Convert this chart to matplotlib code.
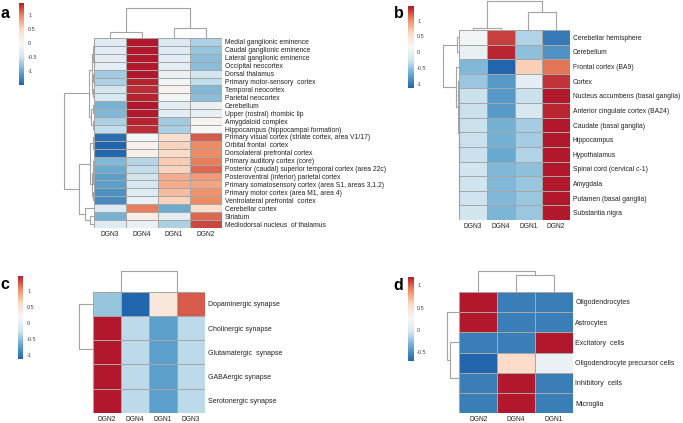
import numpy as np
import matplotlib
matplotlib.use('Agg')
import matplotlib.pyplot as plt
from matplotlib.colors import LinearSegmentedColormap

plt.rcParams['font.family'] = ['Liberation Sans', 'DejaVu Sans']

W, H = 683, 423

# brewer RdBu (7 classes), reversed
cmap = LinearSegmentedColormap.from_list(
    'rdbu7', ['#2166AC', '#67A9CF', '#D1E5F0', '#F7F7F7', '#FDDBC7', '#EF8A62', '#B2182B'])

# ---------------- panel a ----------------
a_cols = ['DGN3', 'DGN4', 'DGN1', 'DGN2']
a_rows = ['Medial ganglionic eminence', 'Caudal ganglionic eminence',
          'Lateral ganglionic eminence', 'Occipital neocortex', 'Dorsal thalamus',
          'Primary motor-sensory  cortex', 'Temporal neocortex', 'Parietal neocortex',
          'Cerebellum', 'Upper (rostral) rhombic lip', 'Amygdaloid complex',
          'Hippocampus (hippocampal formation)',
          'Primary visual cortex (striate cortex, area V1/17)',
          'Orbital frontal  cortex', 'Dorsolateral prefrontal cortex',
          'Primary auditory cortex (core)',
          'Posterior (caudal) superior temporal cortex (area 22c)',
          'Posteroventral (inferior) parietal cortex',
          'Primary somatosensory cortex (area S1, areas 3,1,2)',
          'Primary motor cortex (area M1, area 4)', 'Ventrolateral prefrontal  cortex',
          'Cerebellar cortex', 'Striatum', 'Mediodorsal nucleus  of thalamus']
a_vals = [[-0.35, 1.45, -0.40, -0.70],
          [-0.30, 1.45, -0.35, -0.80],
          [-0.30, 1.45, -0.30, -0.85],
          [-0.30, 1.45, -0.30, -0.85],
          [-0.75, 1.45, -0.20, -0.50],
          [-0.70, 1.40, -0.10, -0.60],
          [-0.50, 1.35, 0.05, -0.90],
          [-0.45, 1.40, -0.10, -0.85],
          [-0.95, 1.45, -0.30, -0.20],
          [-0.90, 1.45, -0.30, -0.25],
          [-0.70, 1.40, -0.75, 0.05],
          [-0.60, 1.35, -0.70, -0.05],
          [-1.45, -0.10, 0.40, 1.15],
          [-1.52, 0.05, 0.50, 0.95],
          [-1.50, 0.10, 0.45, 0.95],
          [-0.90, -0.65, 0.55, 1.00],
          [-1.00, -0.60, 0.50, 1.10],
          [-1.10, -0.50, 0.75, 0.85],
          [-1.10, -0.45, 0.75, 0.80],
          [-1.20, -0.35, 0.65, 0.90],
          [-1.25, -0.20, 0.50, 0.95],
          [-0.40, 1.00, -1.00, 0.40],
          [-0.95, 0.15, -0.30, 1.10],
          [-0.35, -0.20, -0.70, 1.25]]
a_col_tree = [[0, 1, 0.2], [2, 3, 0.33], 1.0]
a_row_tree = [[[[[0, 1, 0.01], [2, 3, 0.015], 0.03], [[4, 5, 0.02], [6, 7, 0.02], 0.06], 0.08],
               [[8, 9, 0.02], [10, 11, 0.04], 0.1], 0.17],
              [[[12, [13, 14, 0.01], 0.03],
                [[[15, 16, 0.02], [17, 18, 0.02], 0.04], [19, 20, 0.02], 0.07], 0.13],
               [21, [22, 23, 0.15], 0.3], 0.5], 1.0]
a_ticks = [1, 0.5, 0, -0.5, -1]

# ---------------- panel b ----------------
b_cols = ['DGN3', 'DGN4', 'DGN1', 'DGN2']
b_rows = ['Cerebellar hemisphere', 'Cerebellum', 'Frontal cortex (BA9)', 'Cortex',
          'Nucleus accumbens (basal ganglia)', 'Anterior cingulate cortex (BA24)',
          'Caudate (basal ganglia)', 'Hippocampus', 'Hypothalamus',
          'Spinal cord (cervical c-1)', 'Amygdala', 'Putamen (basal ganglia)',
          'Substantia nigra']
b_vals = [[0.10, 1.30, -0.40, -1.00],
          [0.00, 1.40, -0.55, -0.85],
          [-0.60, -1.14, 0.65, 1.10],
          [-0.50, -0.80, -0.05, 1.35],
          [-0.30, -0.80, -0.30, 1.46],
          [-0.30, -0.80, -0.20, 1.40],
          [-0.30, -0.65, -0.45, 1.46],
          [-0.30, -0.65, -0.45, 1.46],
          [-0.30, -0.70, -0.40, 1.46],
          [-0.25, -0.60, -0.55, 1.46],
          [-0.28, -0.60, -0.50, 1.46],
          [-0.28, -0.60, -0.50, 1.46],
          [-0.25, -0.62, -0.50, 1.46]]
b_col_tree = [[0, 1, 0.07], [2, 3, 0.62], 1.0]
b_row_tree = [[0, 1, 0.12],
              [2, [3, [[4, 5, 0.02],
                       [[6, [7, 8, 0.01], 0.02], [[9, 10, 0.01], [11, 12, 0.01], 0.015], 0.025],
                       0.03], 0.04], 0.19], 1.0]
b_ticks = [1, 0.5, 0, -0.5, -1]

# ---------------- panel c ----------------
c_cols = ['DGN2', 'DGN4', 'DGN1', 'DGN3']
c_rows = ['Dopaminergic synapse', 'Cholinergic synapse', 'Glutamatergic  synapse',
          'GABAergic synapse', 'Serotonergic synapse']
c_vals = [[-0.50, -1.13, 0.40, 1.20],
          [1.46, -0.35, -0.76, -0.35],
          [1.46, -0.35, -0.76, -0.35],
          [1.46, -0.35, -0.76, -0.35],
          [1.46, -0.35, -0.76, -0.35]]
c_col_tree = [[0, 1, 0.0], [2, 3, 0.0], 1.0]
c_row_tree = [0, [1, [2, [3, 4, 0.0], 0.0], 0.0], 1.0]
c_ticks = [1, 0.5, 0, -0.5, -1]

# ---------------- panel d ----------------
d_cols = ['DGN2', 'DGN4', 'DGN1']
d_rows = ['Oligodendrocytes', 'Astrocytes', 'Excitatory  cells',
          'Oligodendrocyte precursor cells', 'Inhibitory  cells', 'Microglia']
d_vals = [[1.18, -0.58, -0.58],
          [1.18, -0.58, -0.58],
          [-0.58, -0.58, 1.18],
          [-0.69, 0.54, 0.15],
          [-0.58, 1.18, -0.58],
          [-0.58, 1.18, -0.58]]
d_col_tree = [0, [1, 2, 0.8], 1.0]
d_row_tree = [[0, 1, 0.0], [2, [3, [4, 5, 0.0], 0.0], 0.74], 1.0]
d_ticks = [1, 0.5, 0, -0.5]

fig = plt.figure(figsize=(W / 100, H / 100), dpi=100)

LINE = '#a3a3a3'
TXT = '#222222'


def px_axes(x0, y0, x1, y1):
    return fig.add_axes([x0 / W, 1 - y1 / H, (x1 - x0) / W, (y1 - y0) / H])


def draw_tree(ax, node, orient):
    if isinstance(node, int):
        return node + 0.5, 0.0
    left, right, h = node
    p1, h1 = draw_tree(ax, left, orient)
    p2, h2 = draw_tree(ax, right, orient)
    if orient == 'top':
        ax.plot([p1, p1, p2, p2], [h1, h, h, h2], color=LINE, lw=0.8, clip_on=False)
    else:
        ax.plot([h1, h, h, h2], [p1, p1, p2, p2], color=LINE, lw=0.8, clip_on=False)
    return (p1 + p2) / 2, h


def panel(letter, vals, rows, cols, row_tree, col_tree, ticks,
          heat, top_y, left_x, cbar, letter_xy, fs, cfs):
    vals = np.array(vals)
    vmin, vmax = vals.min(), vals.max()
    n, m = vals.shape
    hx0, hy0, hx1, hy1 = heat

    ax = px_axes(hx0, hy0, hx1, hy1)
    ax.pcolormesh(vals, cmap=cmap, vmin=vmin, vmax=vmax,
                  edgecolors='#a6a6a6', linewidth=0.5)
    ax.set_xlim(0, m)
    ax.set_ylim(n, 0)
    for s in ax.spines.values():
        s.set_visible(False)
    ax.yaxis.tick_right()
    ax.set_yticks(np.arange(n) + 0.5)
    ax.set_yticklabels(rows, fontsize=fs, color=TXT)
    ax.set_xticks(np.arange(m) + 0.5)
    ax.set_xticklabels(cols, fontsize=cfs, color=TXT)
    ax.tick_params(length=0, pad=2)

    # column dendrogram
    axc = px_axes(hx0, top_y, hx1, hy0)
    draw_tree(axc, col_tree, 'top')
    axc.set_xlim(0, m)
    axc.set_ylim(0, col_tree[2])
    axc.axis('off')

    # row dendrogram
    axr = px_axes(left_x, hy0, hx0, hy1)
    draw_tree(axr, row_tree, 'left')
    axr.set_xlim(row_tree[2], 0)
    axr.set_ylim(n, 0)
    axr.axis('off')

    # colour legend
    cx0, cy0, cx1, cy1 = cbar
    axb = px_axes(cx0, cy0, cx1, cy1)
    grad = np.linspace(vmin, vmax, 256)[:, None]
    axb.imshow(grad, aspect='auto', cmap=cmap, vmin=vmin, vmax=vmax,
               origin='lower', extent=[0, 1, vmin, vmax])
    for s in axb.spines.values():
        s.set_visible(False)
    axb.set_xticks([])
    axb.yaxis.tick_right()
    axb.set_yticks(ticks)
    axb.set_yticklabels([f'{t:g}' for t in ticks], fontsize=4, color='#444444')
    axb.tick_params(length=0, pad=3)

    fig.text(letter_xy[0] / W, 1 - letter_xy[1] / H, letter, fontsize=11.5,
             fontweight='bold', ha='left', va='baseline')


panel('a', a_vals, a_rows, a_cols, a_row_tree, a_col_tree, a_ticks,
      heat=(94, 38, 222, 228), top_y=8, left_x=64, cbar=(19, 3, 24, 85),
      letter_xy=(0.5, 18.3), fs=4.9, cfs=4.8)
panel('b', b_vals, b_rows, b_cols, b_row_tree, b_col_tree, b_ticks,
      heat=(459, 30, 570, 220), top_y=1, left_x=443, cbar=(408, 6, 413, 88),
      letter_xy=(393.5, 18.3), fs=4.85, cfs=4.8)
panel('c', c_vals, c_rows, c_cols, c_row_tree, c_col_tree, c_ticks,
      heat=(92.7, 291.7, 205, 413), top_y=271, left_x=79, cbar=(18, 276, 23, 359),
      letter_xy=(0.5, 289), fs=5, cfs=4.8)
panel('d', d_vals, d_rows, d_cols, d_row_tree, d_col_tree, d_ticks,
      heat=(459.3, 291.7, 572.7, 413.3), top_y=270.7, left_x=446.7, cbar=(408, 277, 413, 361),
      letter_xy=(393.5, 290), fs=5, cfs=4.8)

fig.savefig('out.png', dpi=100)
